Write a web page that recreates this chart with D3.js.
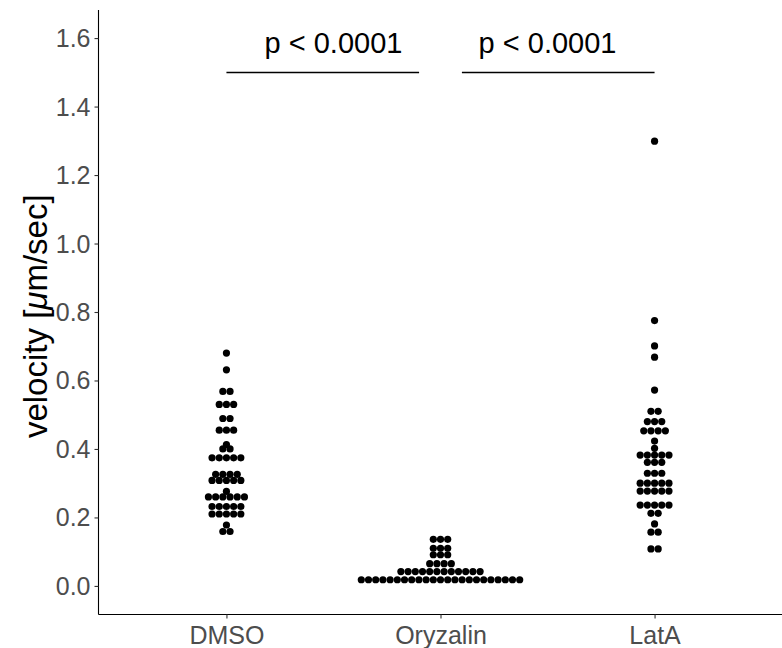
<!DOCTYPE html>
<html lang="en">
<head>
<meta charset="utf-8">
<title>velocity dotplot</title>
<script src="https://d3js.org/d3.v7.min.js"></script>
<style>
  body { margin: 0; background: #fff; }
  svg text { font-family: "Liberation Sans", Arial, Helvetica, sans-serif; }
</style>
</head>
<body>
<script>
// categories
var groups = ["DMSO", "Oryzalin", "LatA"];

// one value per dot (um/sec)
var dmsoVelocity = [
  0.680, 0.631, 0.568, 0.568, 0.530, 0.530, 0.530, 0.489, 0.489,
  0.455, 0.455, 0.455, 0.413, 0.400, 0.400,
  0.374, 0.374, 0.374, 0.374, 0.374,
  0.326, 0.326, 0.326, 0.326,
  0.308, 0.308, 0.308, 0.308, 0.308, 0.276,
  0.260, 0.260, 0.260, 0.260, 0.260, 0.260,
  0.232, 0.232, 0.232, 0.232, 0.232,
  0.210, 0.210, 0.210, 0.210, 0.210,
  0.178, 0.159, 0.159
];
var oryzalinVelocity = [
  0.136, 0.136, 0.136, 0.110, 0.110, 0.110, 0.091, 0.091, 0.091,
  0.065, 0.065, 0.065, 0.065,
  0.042, 0.042, 0.042, 0.042, 0.042, 0.042, 0.042, 0.042, 0.042, 0.042, 0.042, 0.042,
  0.018, 0.018, 0.018, 0.018, 0.018, 0.018, 0.018, 0.018, 0.018, 0.018, 0.018, 0.018,
  0.018, 0.018, 0.018, 0.018, 0.018, 0.018, 0.018, 0.018, 0.018, 0.018, 0.018
];
var lataVelocity = [
  1.299, 0.775, 0.701, 0.668, 0.572, 0.510, 0.510,
  0.480, 0.480, 0.480, 0.453, 0.453, 0.453, 0.453, 0.423, 0.402,
  0.382, 0.382, 0.382, 0.382, 0.382, 0.361, 0.361, 0.361,
  0.329, 0.329, 0.329,
  0.300, 0.300, 0.300, 0.300, 0.300,
  0.277, 0.277, 0.277, 0.277, 0.277,
  0.236, 0.236, 0.236, 0.236, 0.236,
  0.212, 0.212, 0.181, 0.157, 0.157, 0.108, 0.108
];

var yTicks = [0.0, 0.2, 0.4, 0.6, 0.8, 1.0, 1.2, 1.4, 1.6];

// significance brackets: from group, to group, label
var sigFrom = [1, 2.1];
var sigTo = [1.9, 3];
var sigLabelAt = [1.5, 2.5];
var sigLabels = ["p < 0.0001", "p < 0.0001"];
var sigLevel = 1.5;

var width = 782, height = 648;
var plotLeft = 98.5, plotRight = 783, plotTop = 10, plotBottom = 614.5;
var dotD = 7.2;

var svg = d3.select("body").append("svg")
  .attr("width", width)
  .attr("height", height);

var y = d3.scaleLinear()
  .domain([-0.082, 1.682])
  .range([614, plotTop]);

// continuous version of the discrete x axis (groups at 1, 2, 3)
var xNum = d3.scaleLinear()
  .domain([0.4, 3.6])
  .range([98, plotRight]);

var x = function(g) { return xNum(groups.indexOf(g) + 1); };

// dots
var series = [dmsoVelocity, oryzalinVelocity, lataVelocity];
var dots = [];
series.forEach(function(vals, gi) {
  var rows = d3.rollups(vals, function(v) { return v.length; }, function(v) { return v; });
  rows.forEach(function(r) {
    for (var i = 0; i < r[1]; i++) {
      dots.push({ group: groups[gi], value: r[0], off: i - (r[1] - 1) / 2 });
    }
  });
});

svg.append("g").selectAll("circle")
  .data(dots)
  .enter().append("circle")
  .attr("cx", function(d) { return x(d.group) + d.off * dotD; })
  .attr("cy", function(d) { return y(d.value); })
  .attr("r", dotD / 2)
  .attr("fill", "#000");

// axes
var yAxis = d3.axisLeft(y)
  .tickValues(yTicks)
  .tickFormat(d3.format(".1f"))
  .tickSize(4)
  .tickPadding(4);

var gy = svg.append("g")
  .attr("transform", "translate(" + plotLeft + ",0)")
  .call(yAxis);
gy.select(".domain").attr("d", "M0," + plotTop + "V" + plotBottom)
  .attr("stroke", "#000").attr("stroke-width", 1.1);
gy.selectAll(".tick line").attr("stroke", "#333").attr("stroke-width", 1.1);
gy.selectAll(".tick text")
  .attr("font-size", 25)
  .attr("fill", "#4d4d4d")
  .attr("dy", "0.34em");

var xAxis = d3.axisBottom(xNum)
  .tickValues([1, 2, 3])
  .tickFormat(function(d) { return groups[d - 1]; })
  .tickSize(4)
  .tickPadding(4);

var gx = svg.append("g")
  .attr("transform", "translate(0," + plotBottom + ")")
  .call(xAxis);
gx.select(".domain").attr("d", "M" + plotLeft + ",0H" + plotRight)
  .attr("stroke", "#000").attr("stroke-width", 1.1);
gx.selectAll(".tick line").attr("stroke", "#333").attr("stroke-width", 1.1);
gx.selectAll(".tick text")
  .attr("font-size", 25)
  .attr("fill", "#4d4d4d")
  .attr("dy", "0.85em");

// y title
var yt = svg.append("text")
  .attr("transform", "translate(47," + ((plotTop + plotBottom) / 2 + 4) + ") rotate(-90)")
  .attr("text-anchor", "middle")
  .attr("font-size", 33)
  .attr("fill", "#000");
yt.append("tspan").text("velocity [");
yt.append("tspan").attr("font-style", "italic").text("\u03bc");
yt.append("tspan").text("m/sec]");

// significance bars
var sig = svg.append("g");
sigLabels.forEach(function(lab, i) {
  sig.append("line")
    .attr("x1", xNum(sigFrom[i]))
    .attr("x2", xNum(sigTo[i]))
    .attr("y1", Math.round(y(sigLevel)) + 0.5)
    .attr("y2", Math.round(y(sigLevel)) + 0.5)
    .attr("stroke", "#000")
    .attr("stroke-width", 1.3);
  sig.append("text")
    .attr("x", xNum(sigLabelAt[i]))
    .attr("y", y(sigLevel) - 19)
    .attr("text-anchor", "middle")
    .attr("font-size", 29)
    .attr("fill", "#000")
    .text(lab);
});
</script>
</body>
</html>
